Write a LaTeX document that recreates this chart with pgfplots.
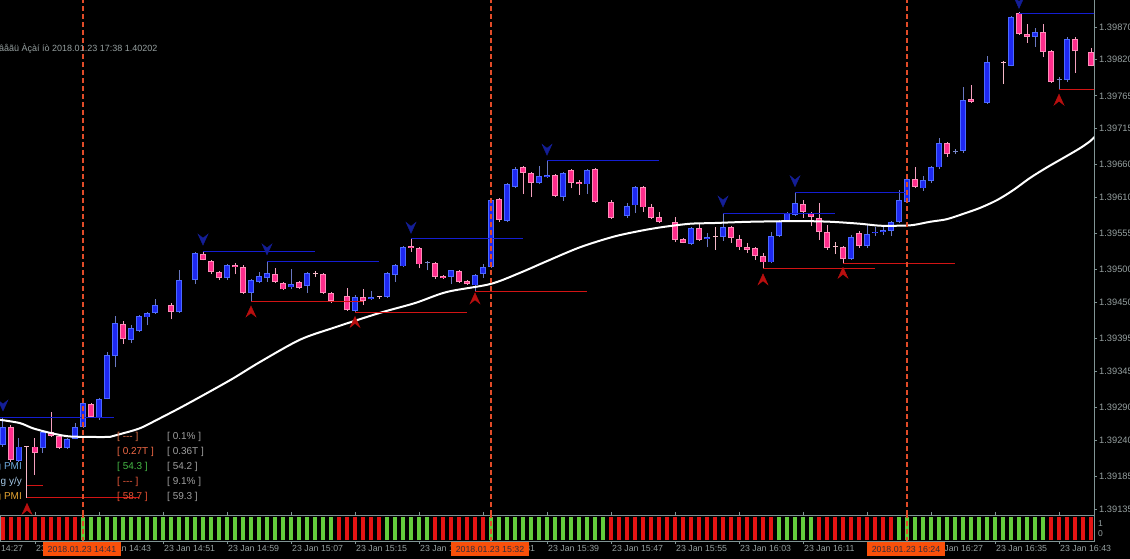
\documentclass[border=0pt]{standalone}
\usepackage{pgfplots}
\pgfplotsset{compat=1.18}
\usepackage{pgfplotstable}
\usepackage{fontspec}
\setmainfont{Liberation Sans}
\definecolor{upfill}{RGB}{30,40,240}
\definecolor{uprim}{RGB}{75,105,255}
\definecolor{upwick}{RGB}{105,120,195}
\definecolor{dnfill}{RGB}{255,45,140}
\definecolor{dnrim}{RGB}{255,140,185}
\definecolor{dnwick}{RGB}{245,160,190}
\definecolor{paledoji}{RGB}{245,185,200}
\definecolor{bluedoji}{RGB}{120,135,200}
\definecolor{axgrey}{RGB}{128,148,148}
\definecolor{txtgrey}{RGB}{150,160,160}
\definecolor{sepline}{RGB}{225,75,40}
\definecolor{boxorange}{RGB}{250,80,10}
\definecolor{hblue}{RGB}{20,30,210}
\definecolor{hred}{RGB}{210,20,20}
\definecolor{arrblue}{RGB}{20,30,150}
\definecolor{arrred}{RGB}{185,15,15}
\definecolor{barred}{RGB}{230,20,20}
\definecolor{bargreen}{RGB}{100,205,60}
\newcommand{\mtf}{\fontsize{8.8pt}{10pt}\selectfont}
\pgfdeclareplotmark{dnarr}{%
  \pgfpathmoveto{\pgfqpoint{-5pt}{6pt}}%
  \pgfpathlineto{\pgfqpoint{0pt}{-5pt}}%
  \pgfpathlineto{\pgfqpoint{5pt}{6pt}}%
  \pgfpathlineto{\pgfqpoint{0pt}{2pt}}%
  \pgfpathclose\pgfusepathqfillstroke}
\pgfdeclareplotmark{uparr}{%
  \pgfpathmoveto{\pgfqpoint{-5pt}{-6pt}}%
  \pgfpathlineto{\pgfqpoint{0pt}{5pt}}%
  \pgfpathlineto{\pgfqpoint{5pt}{-6pt}}%
  \pgfpathlineto{\pgfqpoint{0pt}{-2pt}}%
  \pgfpathclose\pgfusepathqfillstroke}

% prices in points: price = 1.39 + value/100000
\pgfplotstableread{
i o h l c
-10 233 274 230 260
-8 208 243 207 230
-5 228 253 220 252
-2 228 243 227 242
-1 242 266 241 260
0 260 298 258 297
2 274 304 271 303
3 303 374 302 370
4 368 429 351 418
6 393 415 388 411
7 406 431 405 429
8 427 435 415 434
9 434 455 433 446
12 435 499 434 484
14 484 527 478 525
18 487 508 484 507
21 464 485 452 484
22 481 496 479 490
23 487 513 481 495
26 473 501 470 478
28 475 496 464 495
34 437 461 435 458
36 455 467 454 458
38 458 496 457 495
39 492 508 481 507
40 505 536 504 534
46 489 500 478 499
49 476 493 467 492
50 493 508 487 504
51 504 608 502 606
53 574 632 573 630
54 626 656 624 653
57 632 658 630 643
58 641 666 640 644
60 611 649 605 647
63 630 653 615 652
68 582 602 579 597
69 598 628 586 626
76 539 565 538 563
78 547 556 534 550
80 550 585 544 565
86 511 557 510 551
87 551 576 550 574
88 574 588 573 586
89 583 617 582 602
96 516 553 515 550
98 536 570 533 554
99 556 565 551 558
100 557 565 553 560
101 559 574 551 573
102 573 621 571 606
103 603 640 602 638
105 624 643 620 637
106 635 658 632 656
107 656 701 653 693
110 681 778 678 759
113 754 826 753 817
116 811 887 810 885
119 855 868 840 862
123 789 855 786 852
}\upcandles

\pgfplotstableread{
i o h l c
-9 260 263 207 210
-6 230 243 187 220
-4 252 283 245 246
-3 246 247 227 228
1 295 297 274 275
5 417 421 387 394
11 446 449 424 435
15 524 528 514 515
16 513 515 493 496
17 496 498 484 487
19 507 510 493 504
20 504 507 463 464
24 493 502 480 481
25 479 481 469 470
27 481 483 471 472
30 493 495 463 464
31 464 466 449 452
33 460 472 437 438
35 458 470 446 452
41 536 547 527 533
42 533 534 502 508
44 510 511 486 489
45 490 492 486 487
47 498 499 480 481
48 483 484 477 478
52 608 609 573 576
55 656 658 615 647
56 647 649 611 632
59 644 646 611 612
61 652 653 624 632
62 633 637 614 630
64 653 655 602 603
66 603 606 577 579
70 626 628 588 595
71 595 600 577 579
72 580 588 571 573
74 573 580 542 545
75 547 548 540 541
77 563 571 544 545
81 565 567 541 548
82 547 553 530 534
83 534 541 525 530
84 533 534 515 521
85 521 525 501 511
90 600 606 579 588
91 586 588 567 580
92 579 602 545 557
93 557 568 530 533
95 534 536 510 516
97 556 559 533 536
104 638 656 624 626
108 693 695 672 676
111 760 781 754 756
117 891 893 858 859
118 859 875 846 855
120 862 875 824 832
121 833 835 785 786
124 852 855 800 833
126 832 838 810 811
}\dncandles

\pgfplotstableread{
i o h l
-7 230 231 152
29 493 498 489
37 458 460 455
79 549 565 530
94 534 542 524
115 815 818 783
}\paledojis

\pgfplotstableread{
i o h l
43 510 513 499
109 679 684 676
122 789 794 775
}\bluedojis

\pgfplotstableread{
i ma
-10.4 271
-7.9 266
-6.25 258
-4.1 251
-2 246
0 245
3.4 245
4.6 249
7.1 258
9.25 271
12.1 289
15.25 310
18.75 334
22.1 359
27.1 393
31.25 411
37.1 434
41.5 449
45.5 466
50.9 478
54.6 495
58 513
62.1 534
66.25 550
69.6 559
72.5 565
75.9 570
78.75 571
83.4 573
89.6 574
93.4 573
97.1 570
99.6 567
102.1 567
103.75 568
105.9 573
108 577
110.25 586
112.1 594
114.25 606
116.25 621
118.4 640
120.5 656
122.5 670
124.6 685
125.9 696
126.5 703
}\maline

\begin{document}
\begin{tikzpicture}
\fill[black] (0,0) rectangle (1130pt,559pt);
\useasboundingbox (0,0) rectangle (1130pt,559pt);

% ---------- main price pane ----------
\begin{axis}[
  at={(0pt,44pt)}, anchor=south west,
  width=1094pt, height=515pt, scale only axis,
  xmin=-10.375, xmax=126.375, ymin=125.8, ymax=911.2,
  axis x line=none, axis y line*=right,
  y axis line style={axgrey, line width=0.8pt},
  ytick={870,820,765,715,660,610,555,500,450,395,345,290,240,185,135},
  yticklabels={1.39870,1.39820,1.39765,1.39715,1.39660,1.39610,1.39555,1.39500,1.39450,1.39395,1.39345,1.39290,1.39240,1.39185,1.39135},
  tick align=outside, major tick length=3pt,
  ytick style={axgrey, line width=0.8pt},
  yticklabel style={font=\fontsize{9.3pt}{10pt}\selectfont, text=txtgrey, anchor=west, inner xsep=2pt},
]
% wicks
\addplot[draw=none, mark=none, forget plot, error bars/.cd, y dir=plus, y explicit, error mark=none,
  error bar style={draw=upwick, line width=1pt}]
  table[x=i, y=l, y error expr=\thisrow{h}-\thisrow{l}] {\upcandles};
\addplot[draw=none, mark=none, forget plot, error bars/.cd, y dir=plus, y explicit, error mark=none,
  error bar style={draw=dnwick, line width=1pt}]
  table[x=i, y=l, y error expr=\thisrow{h}-\thisrow{l}] {\dncandles};
\addplot[draw=none, mark=none, forget plot, error bars/.cd, y dir=plus, y explicit, error mark=none,
  error bar style={draw=paledoji, line width=1pt}]
  table[x=i, y=l, y error expr=\thisrow{h}-\thisrow{l}] {\paledojis};
\addplot[draw=none, mark=none, forget plot, error bars/.cd, y dir=plus, y explicit, error mark=none,
  error bar style={draw=bluedoji, line width=1pt}]
  table[x=i, y=l, y error expr=\thisrow{h}-\thisrow{l}] {\bluedojis};
% bodies
\addplot[draw=none, mark=none, forget plot, error bars/.cd, y dir=plus, y explicit, error mark=none,
  error bar style={draw=uprim, line width=5.5pt}]
  table[x=i, y=o, y error expr=\thisrow{c}-\thisrow{o}] {\upcandles};
\addplot[draw=none, mark=none, forget plot, error bars/.cd, y dir=plus, y explicit, error mark=none,
  error bar style={draw=upfill, line width=3.5pt}]
  table[x=i, y expr=\thisrow{o}+1.2, y error expr=\thisrow{c}-\thisrow{o}-2.4] {\upcandles};
\addplot[draw=none, mark=none, forget plot, error bars/.cd, y dir=plus, y explicit, error mark=none,
  error bar style={draw=dnrim, line width=5.5pt}]
  table[x=i, y=c, y error expr=\thisrow{o}-\thisrow{c}] {\dncandles};
\addplot[draw=none, mark=none, forget plot, error bars/.cd, y dir=plus, y explicit, error mark=none,
  error bar style={draw=dnfill, line width=3.5pt}]
  table[x=i, y expr=\thisrow{c}+1.2, y error expr=\thisrow{o}-\thisrow{c}-2.4] {\dncandles};
\addplot[draw=none, mark=none, forget plot, error bars/.cd, y dir=plus, y explicit, error mark=none,
  error bar style={draw=paledoji, line width=5pt}]
  table[x=i, y=o, y error expr=1.6] {\paledojis};
\addplot[draw=none, mark=none, forget plot, error bars/.cd, y dir=plus, y explicit, error mark=none,
  error bar style={draw=bluedoji, line width=5pt}]
  table[x=i, y=o, y error expr=1.6] {\bluedojis};

% moving average
\addplot[draw=white, line width=2pt, smooth] table[x=i, y=ma] {\maline};

% fractal levels
\addplot[draw=hblue, line width=1pt] coordinates {(-10.4,274) (3.9,274)};
\addplot[draw=hblue, line width=1pt] coordinates {(15,528) (29,528)};
\addplot[draw=hblue, line width=1pt] coordinates {(23,513) (37,513)};
\addplot[draw=hblue, line width=1pt] coordinates {(41,547) (55,547)};
\addplot[draw=hblue, line width=1pt] coordinates {(58,666) (72,666)};
\addplot[draw=hblue, line width=1pt] coordinates {(80,585) (94,585)};
\addplot[draw=hblue, line width=1pt] coordinates {(89,617) (103,617)};
\addplot[draw=hblue, line width=1pt] coordinates {(117,891) (127,891)};
\addplot[draw=hred, line width=1pt] coordinates {(-7,152) (7,152)};
\addplot[draw=hred, line width=1pt] coordinates {(-7,171) (-5,171)};
\addplot[draw=hred, line width=1pt] coordinates {(21,452) (35,452)};
\addplot[draw=hred, line width=1pt] coordinates {(34,435) (48,435)};
\addplot[draw=hred, line width=1pt] coordinates {(49,467) (63,467)};
\addplot[draw=hred, line width=1pt] coordinates {(85,501) (99,501)};
\addplot[draw=hred, line width=1pt] coordinates {(95,510) (109,510)};
\addplot[draw=hred, line width=1pt] coordinates {(122,775) (127,775)};

% fractal arrows
\addplot[only marks, mark=dnarr, mark options={fill=arrblue, draw=arrblue, line width=0.4pt}]
  coordinates {(-10,292) (15,545) (23,530) (41,563) (58,682) (80,603) (89,634) (117,906)};
\addplot[only marks, mark=uparr, mark options={fill=arrred, draw=arrred, line width=0.4pt}]
  coordinates {(-7,136) (21,437) (34,421) (49,457) (85,486) (95,496) (122,760)};

% vertical separators
\addplot[draw=sepline, line width=1.2pt, dash pattern=on 5pt off 3pt] coordinates {(0,125.8) (0,911.2)};
\addplot[draw=sepline, line width=1.2pt, dash pattern=on 5pt off 3pt] coordinates {(51,125.8) (51,911.2)};
\addplot[draw=sepline, line width=1.2pt, dash pattern=on 5pt off 3pt] coordinates {(103,125.8) (103,911.2)};
\end{axis}

% ---------- signal strip ----------
\begin{axis}[
  at={(0pt,18pt)}, anchor=south west,
  width=1094pt, height=26pt, scale only axis,
  xmin=-10.375, xmax=126.375, ymin=-0.04, ymax=1.09,
  axis line style={axgrey, line width=0.8pt},
  ytick=\empty,
  xtick={-6,2,...,122},
  xticklabels={23 Jan 14:35,23 Jan 14:43,23 Jan 14:51,23 Jan 14:59,23 Jan 15:07,23 Jan 15:15,23 Jan 15:23,23 Jan 15:31,23 Jan 15:39,23 Jan 15:47,23 Jan 15:55,23 Jan 16:03,23 Jan 16:11,23 Jan 16:19,23 Jan 16:27,23 Jan 16:35,23 Jan 16:43},
  tick align=outside, major tick length=3pt,
  xtick style={axgrey, line width=0.8pt},
  x tick label style={font=\mtf, text=txtgrey, anchor=north west, inner xsep=1pt, inner ysep=1pt},
]
\addplot[ycomb, draw=barred, line width=4pt] coordinates {
(-10,1)(-9,1)(-8,1)(-7,1)(-6,1)(-5,1)(-4,1)(-3,1)(-2,1)(-1,1)
(32,1)(33,1)(34,1)(35,1)(36,1)(37,1)
(44,1)(45,1)(46,1)(47,1)(48,1)(49,1)(50,1)
(66,1)(67,1)(68,1)(69,1)(70,1)(71,1)(72,1)(73,1)(74,1)(75,1)(76,1)(77,1)(78,1)(79,1)(80,1)(81,1)(82,1)(83,1)(84,1)(85,1)(86,1)
(92,1)(93,1)(94,1)(95,1)(96,1)(97,1)(98,1)(99,1)(100,1)(101,1)
(121,1)(122,1)(123,1)(124,1)(125,1)(126,1)};
\addplot[ycomb, draw=bargreen, line width=4pt] coordinates {
(0,1)(1,1)(2,1)(3,1)(4,1)(5,1)(6,1)(7,1)(8,1)(9,1)(10,1)(11,1)(12,1)(13,1)(14,1)(15,1)
(16,1)(17,1)(18,1)(19,1)(20,1)(21,1)(22,1)(23,1)(24,1)(25,1)(26,1)(27,1)(28,1)(29,1)(30,1)(31,1)
(38,1)(39,1)(40,1)(41,1)(42,1)(43,1)
(51,1)(52,1)(53,1)(54,1)(55,1)(56,1)(57,1)(58,1)(59,1)(60,1)(61,1)(62,1)(63,1)(64,1)(65,1)
(87,1)(88,1)(89,1)(90,1)(91,1)
(102,1)(103,1)(104,1)(105,1)(106,1)(107,1)(108,1)(109,1)(110,1)(111,1)(112,1)(113,1)(114,1)(115,1)(116,1)(117,1)(118,1)(119,1)(120,1)};
\addplot[draw=sepline, line width=1.2pt, dash pattern=on 5pt off 3pt] coordinates {(0,-0.1) (0,1.2)};
\addplot[draw=sepline, line width=1.2pt, dash pattern=on 5pt off 3pt] coordinates {(51,-0.1) (51,1.2)};
\addplot[draw=sepline, line width=1.2pt, dash pattern=on 5pt off 3pt] coordinates {(103,-0.1) (103,1.2)};
\end{axis}

% ---------- texts ----------
\node[anchor=west, inner sep=0pt, text=txtgrey, font=\fontsize{9pt}{10pt}\selectfont] at (-1pt,510pt) {âåãü Àçàí íò 2018.01.23 17:38 1.40202};
\node[anchor=north west, inner xsep=1pt, inner ysep=1pt, text=txtgrey, font=\mtf] at (-29pt,14.6pt) {23 Jan 14:27};
\node[anchor=west, text=txtgrey, font=\fontsize{8.5pt}{9pt}\selectfont, inner sep=0pt] at (1098pt,35pt) {1};
\node[anchor=west, text=txtgrey, font=\fontsize{8.5pt}{9pt}\selectfont, inner sep=0pt] at (1098pt,25pt) {0};

\foreach \xx/\lab in {82/14:41, 490/15:32, 906/16:24}{
  \node[fill=boxorange, text={rgb,255:red,50;green,45;blue,60}, font=\mtf, inner xsep=5pt, inner ysep=0pt, minimum height=14pt] at (\xx pt,10pt) {2018.01.23 \lab};
}

\begin{scope}[font=\fontsize{10pt}{11pt}\selectfont]
\node[anchor=west, inner sep=0pt, text={rgb,255:red,225;green,110;blue,70}] at (117pt,122pt) {[ -{}-{}- ]};
\node[anchor=west, inner sep=0pt, text={rgb,255:red,240;green,105;blue,70}] at (117pt,107pt) {[ 0.27T ]};
\node[anchor=west, inner sep=0pt, text={rgb,255:red,70;green,185;blue,70}] at (117pt,92pt) {[ 54.3 ]};
\node[anchor=west, inner sep=0pt, text={rgb,255:red,235;green,90;blue,60}] at (117pt,77pt) {[ -{}-{}- ]};
\node[anchor=west, inner sep=0pt, text={rgb,255:red,235;green,80;blue,50}] at (117pt,62pt) {[ 58.7 ]};
\node[anchor=west, inner sep=0pt, text={rgb,255:red,160;green,160;blue,160}] at (167pt,122pt) {[ 0.1\% ]};
\node[anchor=west, inner sep=0pt, text={rgb,255:red,160;green,160;blue,160}] at (167pt,107pt) {[ 0.36T ]};
\node[anchor=west, inner sep=0pt, text={rgb,255:red,160;green,160;blue,160}] at (167pt,92pt) {[ 54.2 ]};
\node[anchor=west, inner sep=0pt, text={rgb,255:red,160;green,160;blue,160}] at (167pt,77pt) {[ 9.1\% ]};
\node[anchor=west, inner sep=0pt, text={rgb,255:red,160;green,160;blue,160}] at (167pt,62pt) {[ 59.3 ]};
\node[anchor=east, inner sep=0pt, text={rgb,255:red,110;green,170;blue,220}] at (22pt,92pt) {Manufacturing PMI};
\node[anchor=east, inner sep=0pt, text={rgb,255:red,165;green,200;blue,230}] at (22pt,77pt) {Bank Lending y/y};
\node[anchor=east, inner sep=0pt, text={rgb,255:red,230;green,165;blue,50}] at (22pt,62pt) {Manufacturing PMI};
\end{scope}
\end{tikzpicture}
\end{document}
